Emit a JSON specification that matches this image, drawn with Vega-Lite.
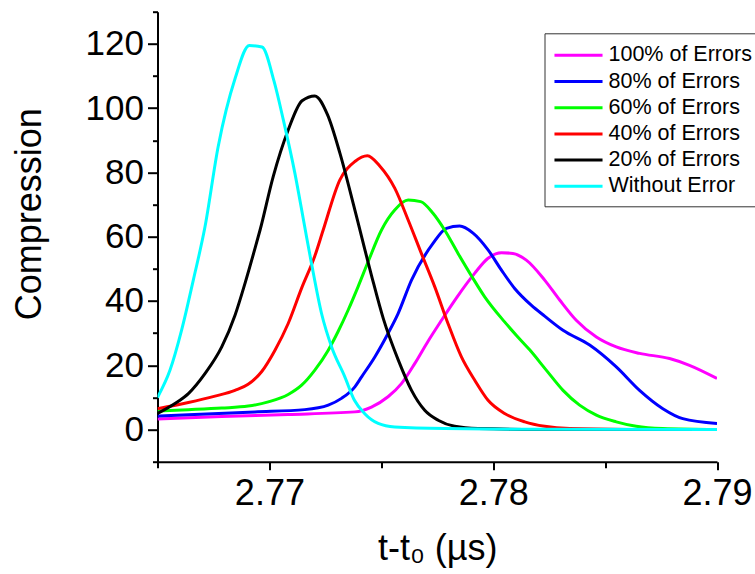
{
  "$schema": "https://vega.github.io/schema/vega-lite/v6.json",
  "autosize": {"type": "none"},
  "padding": {"left": 157.5, "top": 11.7, "right": 37.5, "bottom": 112.3},
  "width": 559.5,
  "height": 450,
  "background": "white",
  "config": {
    "view": {"stroke": null},
    "font": "Liberation Sans",
    "axis": {"labelFont": "Liberation Sans", "titleFont": "Liberation Sans", "labelColor": "black", "titleColor": "black", "titleFontWeight": "normal", "domainColor": "black", "tickColor": "black", "domainWidth": 2, "tickWidth": 2, "grid": false}
  },
  "data": {"values": [
    {"s": "100% of Errors", "t": 2.765, "c": 3.3},
    {"s": "100% of Errors", "t": 2.76787, "c": 4.1},
    {"s": "100% of Errors", "t": 2.77084, "c": 4.7},
    {"s": "100% of Errors", "t": 2.77382, "c": 5.5},
    {"s": "100% of Errors", "t": 2.77456, "c": 7},
    {"s": "100% of Errors", "t": 2.7753, "c": 10.2},
    {"s": "100% of Errors", "t": 2.7759, "c": 14.3},
    {"s": "100% of Errors", "t": 2.7765, "c": 20.6},
    {"s": "100% of Errors", "t": 2.77709, "c": 27.5},
    {"s": "100% of Errors", "t": 2.77769, "c": 34},
    {"s": "100% of Errors", "t": 2.77836, "c": 41},
    {"s": "100% of Errors", "t": 2.77917, "c": 48.6},
    {"s": "100% of Errors", "t": 2.77977, "c": 53.3},
    {"s": "100% of Errors", "t": 2.78037, "c": 55},
    {"s": "100% of Errors", "t": 2.78088, "c": 54.8},
    {"s": "100% of Errors", "t": 2.78148, "c": 52.7},
    {"s": "100% of Errors", "t": 2.7823, "c": 46.5},
    {"s": "100% of Errors", "t": 2.78297, "c": 40.3},
    {"s": "100% of Errors", "t": 2.78371, "c": 34},
    {"s": "100% of Errors", "t": 2.78461, "c": 28.8},
    {"s": "100% of Errors", "t": 2.7855, "c": 25.7},
    {"s": "100% of Errors", "t": 2.78654, "c": 23.7},
    {"s": "100% of Errors", "t": 2.78788, "c": 22.1},
    {"s": "100% of Errors", "t": 2.78877, "c": 20},
    {"s": "100% of Errors", "t": 2.79, "c": 15.9},

    {"s": "80% of Errors", "t": 2.765, "c": 4.2},
    {"s": "80% of Errors", "t": 2.76638, "c": 4.6},
    {"s": "80% of Errors", "t": 2.76935, "c": 5.5},
    {"s": "80% of Errors", "t": 2.77158, "c": 6.2},
    {"s": "80% of Errors", "t": 2.77263, "c": 7.6},
    {"s": "80% of Errors", "t": 2.77322, "c": 9.7},
    {"s": "80% of Errors", "t": 2.77382, "c": 13.3},
    {"s": "80% of Errors", "t": 2.77412, "c": 16.4},
    {"s": "80% of Errors", "t": 2.77471, "c": 22.6},
    {"s": "80% of Errors", "t": 2.7753, "c": 29.9},
    {"s": "80% of Errors", "t": 2.77575, "c": 36.1},
    {"s": "80% of Errors", "t": 2.77635, "c": 46.5},
    {"s": "80% of Errors", "t": 2.77731, "c": 57.9},
    {"s": "80% of Errors", "t": 2.77791, "c": 62.6},
    {"s": "80% of Errors", "t": 2.7785, "c": 63.3},
    {"s": "80% of Errors", "t": 2.7791, "c": 61.1},
    {"s": "80% of Errors", "t": 2.77977, "c": 55.9},
    {"s": "80% of Errors", "t": 2.78037, "c": 49.6},
    {"s": "80% of Errors", "t": 2.78096, "c": 43.9},
    {"s": "80% of Errors", "t": 2.7817, "c": 38.7},
    {"s": "80% of Errors", "t": 2.7823, "c": 35.3},
    {"s": "80% of Errors", "t": 2.78312, "c": 30.9},
    {"s": "80% of Errors", "t": 2.78431, "c": 26.3},
    {"s": "80% of Errors", "t": 2.7855, "c": 19.5},
    {"s": "80% of Errors", "t": 2.78654, "c": 12.2},
    {"s": "80% of Errors", "t": 2.78758, "c": 6.5},
    {"s": "80% of Errors", "t": 2.78847, "c": 3.4},
    {"s": "80% of Errors", "t": 2.79, "c": 1.9},

    {"s": "60% of Errors", "t": 2.765, "c": 5.8},
    {"s": "60% of Errors", "t": 2.76638, "c": 6.2},
    {"s": "60% of Errors", "t": 2.76787, "c": 6.7},
    {"s": "60% of Errors", "t": 2.76905, "c": 7.3},
    {"s": "60% of Errors", "t": 2.76995, "c": 8.6},
    {"s": "60% of Errors", "t": 2.77084, "c": 10.9},
    {"s": "60% of Errors", "t": 2.77144, "c": 13.8},
    {"s": "60% of Errors", "t": 2.77203, "c": 18.5},
    {"s": "60% of Errors", "t": 2.77263, "c": 24.7},
    {"s": "60% of Errors", "t": 2.77307, "c": 30.5},
    {"s": "60% of Errors", "t": 2.77352, "c": 37.2},
    {"s": "60% of Errors", "t": 2.77396, "c": 44.4},
    {"s": "60% of Errors", "t": 2.77441, "c": 52.2},
    {"s": "60% of Errors", "t": 2.77501, "c": 62.1},
    {"s": "60% of Errors", "t": 2.7756, "c": 68.3},
    {"s": "60% of Errors", "t": 2.7762, "c": 71.4},
    {"s": "60% of Errors", "t": 2.77676, "c": 70.9},
    {"s": "60% of Errors", "t": 2.77731, "c": 67.3},
    {"s": "60% of Errors", "t": 2.77783, "c": 62.1},
    {"s": "60% of Errors", "t": 2.77843, "c": 54.8},
    {"s": "60% of Errors", "t": 2.77903, "c": 47.8},
    {"s": "60% of Errors", "t": 2.77962, "c": 41.3},
    {"s": "60% of Errors", "t": 2.78051, "c": 33.5},
    {"s": "60% of Errors", "t": 2.78105, "c": 29.2},
    {"s": "60% of Errors", "t": 2.78163, "c": 24.8},
    {"s": "60% of Errors", "t": 2.78237, "c": 18.5},
    {"s": "60% of Errors", "t": 2.78312, "c": 12.2},
    {"s": "60% of Errors", "t": 2.78386, "c": 7.6},
    {"s": "60% of Errors", "t": 2.78461, "c": 4.5},
    {"s": "60% of Errors", "t": 2.7855, "c": 2.4},
    {"s": "60% of Errors", "t": 2.78639, "c": 1},
    {"s": "60% of Errors", "t": 2.78757, "c": 0.3},
    {"s": "60% of Errors", "t": 2.79, "c": 0},

    {"s": "40% of Errors", "t": 2.765, "c": 6.5},
    {"s": "40% of Errors", "t": 2.76638, "c": 8.4},
    {"s": "40% of Errors", "t": 2.76757, "c": 10.4},
    {"s": "40% of Errors", "t": 2.76846, "c": 12.2},
    {"s": "40% of Errors", "t": 2.76905, "c": 14.1},
    {"s": "40% of Errors", "t": 2.76965, "c": 18},
    {"s": "40% of Errors", "t": 2.77025, "c": 24.7},
    {"s": "40% of Errors", "t": 2.77084, "c": 33},
    {"s": "40% of Errors", "t": 2.77144, "c": 44},
    {"s": "40% of Errors", "t": 2.77203, "c": 54},
    {"s": "40% of Errors", "t": 2.7724, "c": 62},
    {"s": "40% of Errors", "t": 2.77315, "c": 77.7},
    {"s": "40% of Errors", "t": 2.77382, "c": 83.4},
    {"s": "40% of Errors", "t": 2.77438, "c": 85.2},
    {"s": "40% of Errors", "t": 2.77493, "c": 82},
    {"s": "40% of Errors", "t": 2.7756, "c": 75.1},
    {"s": "40% of Errors", "t": 2.7762, "c": 65.2},
    {"s": "40% of Errors", "t": 2.77679, "c": 54.8},
    {"s": "40% of Errors", "t": 2.77739, "c": 44.4},
    {"s": "40% of Errors", "t": 2.77798, "c": 33},
    {"s": "40% of Errors", "t": 2.77858, "c": 22.6},
    {"s": "40% of Errors", "t": 2.77917, "c": 15.4},
    {"s": "40% of Errors", "t": 2.77977, "c": 9.1},
    {"s": "40% of Errors", "t": 2.78051, "c": 5},
    {"s": "40% of Errors", "t": 2.78141, "c": 2.4},
    {"s": "40% of Errors", "t": 2.7823, "c": 1},
    {"s": "40% of Errors", "t": 2.78342, "c": 0.3},
    {"s": "40% of Errors", "t": 2.786, "c": 0.05},
    {"s": "40% of Errors", "t": 2.79, "c": 0},

    {"s": "20% of Errors", "t": 2.765, "c": 5},
    {"s": "20% of Errors", "t": 2.76578, "c": 8.1},
    {"s": "20% of Errors", "t": 2.76638, "c": 11.2},
    {"s": "20% of Errors", "t": 2.76712, "c": 17.4},
    {"s": "20% of Errors", "t": 2.76787, "c": 25.7},
    {"s": "20% of Errors", "t": 2.76846, "c": 35.5},
    {"s": "20% of Errors", "t": 2.76891, "c": 45.5},
    {"s": "20% of Errors", "t": 2.76935, "c": 56.2},
    {"s": "20% of Errors", "t": 2.76958, "c": 62},
    {"s": "20% of Errors", "t": 2.77017, "c": 78.7},
    {"s": "20% of Errors", "t": 2.77084, "c": 93.2},
    {"s": "20% of Errors", "t": 2.77146, "c": 102.3},
    {"s": "20% of Errors", "t": 2.77203, "c": 103.8},
    {"s": "20% of Errors", "t": 2.7726, "c": 97.9},
    {"s": "20% of Errors", "t": 2.77315, "c": 86},
    {"s": "20% of Errors", "t": 2.77382, "c": 68.3},
    {"s": "20% of Errors", "t": 2.77456, "c": 48},
    {"s": "20% of Errors", "t": 2.77509, "c": 34.5},
    {"s": "20% of Errors", "t": 2.77576, "c": 21.6},
    {"s": "20% of Errors", "t": 2.77635, "c": 12.2},
    {"s": "20% of Errors", "t": 2.77694, "c": 6},
    {"s": "20% of Errors", "t": 2.77754, "c": 2.9},
    {"s": "20% of Errors", "t": 2.77828, "c": 1},
    {"s": "20% of Errors", "t": 2.77932, "c": 0.3},
    {"s": "20% of Errors", "t": 2.782, "c": 0.05},
    {"s": "20% of Errors", "t": 2.79, "c": 0},

    {"s": "Without Error", "t": 2.765, "c": 10},
    {"s": "Without Error", "t": 2.76556, "c": 18.5},
    {"s": "Without Error", "t": 2.76608, "c": 31},
    {"s": "Without Error", "t": 2.7666, "c": 46.5},
    {"s": "Without Error", "t": 2.76712, "c": 63},
    {"s": "Without Error", "t": 2.76771, "c": 88},
    {"s": "Without Error", "t": 2.76847, "c": 109.3},
    {"s": "Without Error", "t": 2.7691, "c": 119.5},
    {"s": "Without Error", "t": 2.76967, "c": 119},
    {"s": "Without Error", "t": 2.77021, "c": 108.3},
    {"s": "Without Error", "t": 2.77062, "c": 96.4},
    {"s": "Without Error", "t": 2.77114, "c": 79.7},
    {"s": "Without Error", "t": 2.77158, "c": 63},
    {"s": "Without Error", "t": 2.77188, "c": 51.7},
    {"s": "Without Error", "t": 2.77233, "c": 36.1},
    {"s": "Without Error", "t": 2.77278, "c": 25.7},
    {"s": "Without Error", "t": 2.77337, "c": 16.4},
    {"s": "Without Error", "t": 2.7738, "c": 9.1},
    {"s": "Without Error", "t": 2.77425, "c": 5},
    {"s": "Without Error", "t": 2.77486, "c": 1.9},
    {"s": "Without Error", "t": 2.7756, "c": 0.8},
    {"s": "Without Error", "t": 2.77784, "c": 0.3},
    {"s": "Without Error", "t": 2.782, "c": 0.1},
    {"s": "Without Error", "t": 2.79, "c": 0}
  ]},
  "mark": {"type": "line", "strokeWidth": 3, "clip": true, "interpolate": "monotone"},
  "encoding": {
    "x": {
      "field": "t", "type": "quantitative",
      "scale": {"domain": [2.765, 2.79], "nice": false, "zero": false},
      "axis": {
        "title": "t-t₀ (µs)",
        "titleFontSize": 36,
        "titleBaseline": "alphabetic",
        "titleY": 98,
        "values": [2.765, 2.77, 2.775, 2.78, 2.785, 2.79],
        "labelExpr": "abs(round(datum.value*1000)) % 10 === 0 ? format(datum.value, '.2f') : ''",
        "labelFontSize": 36,
        "labelFlush": false,
        "labelOverlap": false,
        "labelBound": false,
        "labelPadding": 7,
        "tickSize": {"condition": {"test": "abs(round(datum.value*1000)) % 10 === 0", "value": 8}, "value": 6}
      }
    },
    "y": {
      "field": "c", "type": "quantitative",
      "scale": {"domain": [-10, 130], "nice": false, "zero": false},
      "axis": {
        "title": "Compression",
        "titleFontSize": 36,
        "titleBaseline": "alphabetic",
        "titleAngle": -90,
        "titleAnchor": "middle",
        "titleX": -117.5,
        "titleY": 202,
        "values": [-10, 0, 10, 20, 30, 40, 50, 60, 70, 80, 90, 100, 110, 120, 130],
        "labelExpr": "datum.value % 20 === 0 && datum.value >= 0 && datum.value <= 120 ? datum.label : ''",
        "labelFontSize": 35,
        "labelOverlap": false,
        "labelBound": false,
        "labelFlush": false,
        "labelPadding": 4,
        "tickSize": {"condition": {"test": "datum.value % 20 === 0", "value": 10}, "value": 5}
      }
    },
    "color": {
      "field": "s", "type": "nominal",
      "scale": {
        "domain": ["100% of Errors", "80% of Errors", "60% of Errors", "40% of Errors", "20% of Errors", "Without Error"],
        "range": ["#ff00ff", "#0000ff", "#00ff00", "#ff0000", "#000000", "#00ffff"]
      },
      "legend": {
        "title": null,
        "orient": "none",
        "legendX": 387,
        "legendY": 21.6,
        "symbolType": "M-2.09,0H2.09",
        "symbolSize": 529,
        "symbolStrokeWidth": 3,
        "symbolOffset": 12,
        "labelOffset": 17,
        "labelFontSize": 21.5,
        "labelFont": "Liberation Sans",
        "labelColor": "black",
        "labelLimit": 400,
        "padding": 9,
        "rowPadding": 2.2,
        "strokeColor": "#333333"
      }
    }
  }
}
